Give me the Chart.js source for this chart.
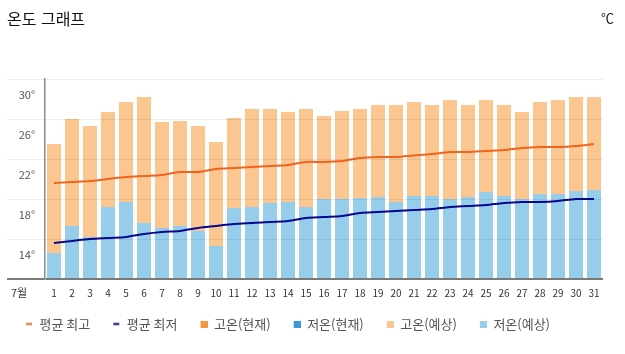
<!DOCTYPE html>
<html lang="ko">
<head>
<meta charset="UTF-8">
<title>온도 그래프</title>
<script src="https://cdn.jsdelivr.net/npm/chart.js"></script>
<style>
    html, body { margin: 0; padding: 0; background: #fff; }
    #wrap { position: relative; width: 625px; height: 354px; font-family: 'Noto Sans CJK KR', 'Noto Sans', sans-serif; }
    #title { position: absolute; left: 7px; top: 7px; font-size: 16px; line-height: 22px; color: #111; }
    #unit { position: absolute; right: 11px; top: 8px; font-size: 13px; line-height: 20px; color: #222; }
    #month { position: absolute; left: 11px; top: 284px; font-size: 11px; line-height: 16px; color: #333; }
    #chartBox { position: absolute; left: 0; top: 0; width: 625px; height: 354px; }
</style>
</head>
<body>
<div id="wrap">
    <div id="chartBox"><canvas id="tempChart"></canvas></div>
    <div id="title">온도 그래프</div>
    <div id="unit">℃</div>
    <div id="month">7월</div>
</div>
<script>
// 날짜 (7월)
const days = ['1', '2', '3', '4', '5', '6', '7', '8', '9', '10', '11', '12', '13', '14', '15', '16',
    '17', '18', '19', '20', '21', '22', '23', '24', '25', '26', '27', '28', '29', '30', '31'];

// 평균 최고 / 평균 최저
const avgHigh = [19.6, 19.7, 19.8, 20.0, 20.2, 20.3, 20.4, 20.7, 20.7, 21.0, 21.1, 21.2, 21.3, 21.4, 21.7, 21.7,
    21.8, 22.1, 22.2, 22.2, 22.35, 22.5, 22.7, 22.7, 22.8, 22.9, 23.1, 23.2, 23.2, 23.3, 23.5];
const avgLow = [13.6, 13.8, 14.0, 14.1, 14.2, 14.5, 14.7, 14.8, 15.1, 15.3, 15.5, 15.6, 15.7, 15.8, 16.1, 16.2,
    16.3, 16.6, 16.7, 16.8, 16.9, 17.0, 17.2, 17.3, 17.4, 17.6, 17.7, 17.7, 17.8, 18.0, 18.0];

// 고온/저온 (현재) - 데이터 없음
const highNow = [];
const lowNow = [];

// 고온/저온 (예상)
const highForecast = [23.5, 26.0, 25.3, 26.7, 27.7, 28.2, 25.7, 25.8, 25.3, 23.7, 26.1, 27.0, 27.0, 26.7, 27.0, 26.3,
    26.8, 27.0, 27.4, 27.4, 27.7, 27.4, 27.9, 27.4, 27.9, 27.4, 26.7, 27.7, 27.9, 28.2, 28.2];
const lowForecast = [12.6, 15.3, 14.2, 17.2, 17.7, 15.6, 15.1, 15.3, 14.8, 13.3, 17.1, 17.2, 17.6, 17.7, 17.2, 18.0,
    18.0, 18.1, 18.2, 17.7, 18.3, 18.3, 18.0, 18.2, 18.7, 18.3, 18.0, 18.5, 18.5, 18.8, 18.9];

// y축 눈금
const yTicks = [10, 14, 18, 22, 26, 30];

const FONT = "'Noto Sans CJK KR', 'Noto Sans', sans-serif";

// 범례 마커 (왼쪽에 빈 공간을 둔 작은 캔버스)
function makeMarker(color, w, h) {
    const c = document.createElement('canvas');
    c.width = 21;
    c.height = 7;
    const g = c.getContext('2d');
    g.fillStyle = color;
    g.fillRect(14, (7 - h) / 2, w, h);
    return c;
}

const ctx = document.getElementById('tempChart').getContext('2d');

new Chart(ctx, {
    data: {
        labels: days,
        datasets: [
            { type: 'line', label: '평균 최고', data: avgHigh, borderColor: '#f0641e', backgroundColor: '#f0641e',
              borderWidth: 2, pointRadius: 0, tension: 0.3, order: 0, marker: makeMarker('#d9692c', 6, 2) },
            { type: 'line', label: '평균 최저', data: avgLow, borderColor: '#08088c', backgroundColor: '#08088c',
              borderWidth: 2, pointRadius: 0, tension: 0.3, order: 0, marker: makeMarker('#08086e', 6, 2) },
            { type: 'bar', label: '고온(현재)', data: highNow, backgroundColor: '#f7963c', order: 4,
              marker: makeMarker('#f7963c', 7, 7) },
            { type: 'bar', label: '저온(현재)', data: lowNow, backgroundColor: '#3a9ad9', order: 3,
              marker: makeMarker('#3a9ad9', 7, 7) },
            { type: 'bar', label: '고온(예상)', data: highForecast, backgroundColor: '#fbc690', order: 2,
              marker: makeMarker('#fbc690', 7, 7) },
            { type: 'bar', label: '저온(예상)', data: lowForecast, backgroundColor: '#96cdeb', order: 1,
              marker: makeMarker('#96cdeb', 7, 7) }
        ]
    },
    options: {
        responsive: true,
        maintainAspectRatio: false,
        animation: false,
        layout: { padding: { top: 79, left: 3, right: 22, bottom: 13.5 } },
        datasets: {
            bar: { grouped: false, barPercentage: 0.78, categoryPercentage: 1 }
        },
        scales: {
            x: {
                grid: { display: false, drawTicks: false, tickLength: 0 },
                border: { display: false },
                ticks: { autoSkip: false, maxRotation: 0, padding: 8, color: '#333', font: { family: FONT, size: 10 } },
                afterFit: (scale) => { scale.height = 29.5; }
            },
            y: {
                min: 10,
                max: 30,
                afterBuildTicks: (scale) => { scale.ticks = yTicks.map(v => ({ value: v })); },
                grid: {
                    z: 1,
                    tickLength: 38,
                    color: (c) => (c.tick && c.tick.value === 10) ? '#7a7a7a' : 'rgba(0,0,0,0.07)',
                    lineWidth: (c) => (c.tick && c.tick.value === 10) ? 2 : 1
                },
                border: { display: true, color: '#8a8a8a', width: 1.5, z: 1 },
                ticks: {
                    padding: -28,
                    labelOffset: 16,
                    color: '#555',
                    font: { family: FONT, size: 11 },
                    callback: (v) => v === 10 ? '' : v + '°'
                },
                afterFit: (scale) => { scale.width = 42; }
            }
        },
        plugins: {
            tooltip: { enabled: false },
            legend: {
                position: 'bottom',
                align: 'start',
                labels: {
                    usePointStyle: true,
                    pointStyleWidth: 21,
                    boxHeight: 7,
                    padding: 9,
                    color: '#555',
                    font: { family: FONT, size: 13 },
                    sort: (a, b) => a.datasetIndex - b.datasetIndex,
                    generateLabels: (chart) => {
                        const items = Chart.defaults.plugins.legend.labels.generateLabels(chart);
                        items.forEach(item => {
                            item.pointStyle = chart.data.datasets[item.datasetIndex].marker;
                        });
                        return items;
                    }
                }
            }
        }
    }
});
</script>
</body>
</html>
